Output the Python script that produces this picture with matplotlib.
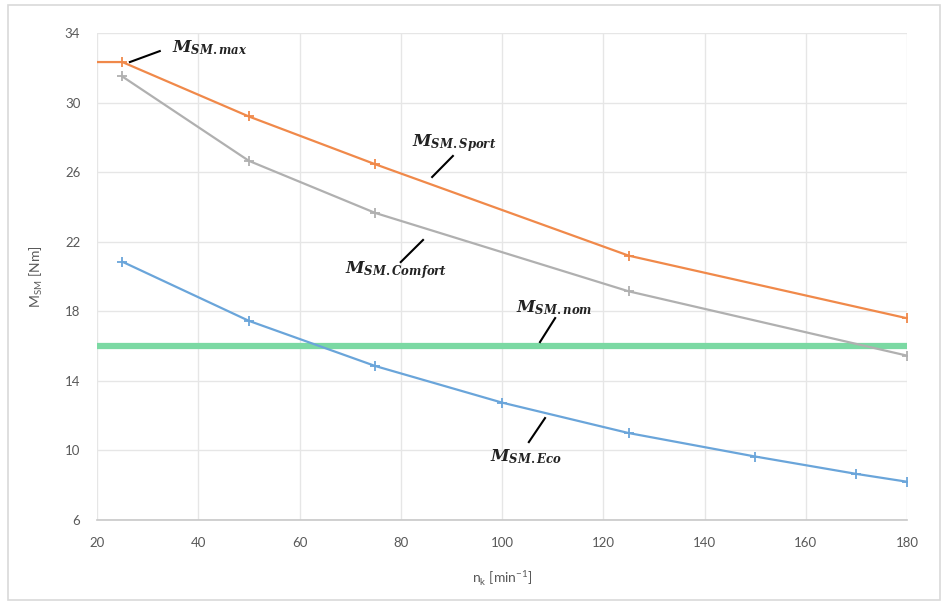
import matplotlib
matplotlib.use("Agg")
import matplotlib.pyplot as plt
from matplotlib.patches import Rectangle

plt.rcParams['mathtext.fontset'] = 'custom'
plt.rcParams['mathtext.it'] = 'DejaVu Serif:bold:italic'
plt.rcParams['mathtext.rm'] = 'DejaVu Serif:bold'
plt.rcParams['mathtext.bf'] = 'DejaVu Serif:bold'

# Data
sport_x = [20, 25, 50, 75, 125, 180]
sport_y = [32.33, 32.33, 29.2, 26.45, 21.2, 17.6]
comfort_x = [25, 50, 75, 125, 180]
comfort_y = [31.5, 26.65, 23.65, 19.15, 15.45]
eco_x = [25, 50, 75, 100, 125, 150, 170, 180]
eco_y = [20.85, 17.45, 14.85, 12.75, 11.0, 9.65, 8.65, 8.2]
nom_x = [20, 180]
nom_y = [16, 16]

x_ticks = [20, 40, 60, 80, 100, 120, 140, 160, 180]
y_ticks = [6, 10, 14, 18, 22, 26, 30, 34]

labels = [
    (r'$M_{SM.max}$', (34.8, 33.14), (26.5, 32.33), (32.4, 32.96)),
    (r'$M_{SM.Sport}$', (82.2, 27.67), (86.2, 25.72), (90.3, 26.93)),
    (r'$M_{SM.Comfort}$', (69.0, 20.37), (80.0, 20.83), (84.4, 22.1)),
    (r'$M_{SM.nom}$', (102.8, 18.19), (107.5, 16.23), (110.5, 17.61)),
    (r'$M_{SM.Eco}$', (97.6, 9.62), (105.3, 10.48), (108.5, 11.86)),
]

fig = plt.figure(figsize=(9.52, 6.07), dpi=100)
fig.patches.append(Rectangle((8/952, 1-600/607), 932/952, 595/607, transform=fig.transFigure,
                             fill=False, edgecolor='#d9d9d9', linewidth=1.2))
ax = fig.add_axes([97/952, 1-520/607, 810/952, 487/607])

ax.plot(nom_x, nom_y, color='#7bd9a3', lw=4.5, solid_capstyle='butt', zorder=2)
ax.plot(comfort_x, comfort_y, color='#b0b0b0', lw=1.6, marker='+', ms=7, mew=1.3, zorder=3)
ax.plot(sport_x, sport_y, color='#f0894a', lw=1.6, marker='+', ms=7, mew=1.3,
        markevery=list(range(1, len(sport_x))), zorder=3)
ax.plot(eco_x, eco_y, color='#6aa5da', lw=1.6, marker='+', ms=7, mew=1.3, zorder=3)

for txt, tpos, l0, l1 in labels:
    ax.text(tpos[0], tpos[1], txt, fontsize=12, va='center', ha='left', color='#222222')
    ax.plot([l0[0], l1[0]], [l0[1], l1[1]], color='black', lw=1.5, zorder=4)

ax.set_xlim(20, 180)
ax.set_ylim(6, 34)
ax.set_xticks(x_ticks)
ax.set_yticks(y_ticks)
ax.grid(True, color='#e6e6e6', lw=1)
ax.set_axisbelow(True)
for s in ['top', 'right', 'left']:
    ax.spines[s].set_visible(False)
ax.spines['bottom'].set_color('#c8c8c8')
ax.spines['bottom'].set_linewidth(1.2)
ax.tick_params(length=0, labelsize=9.5, labelcolor='#595959', pad=12)
for lab in ax.get_xticklabels() + ax.get_yticklabels():
    lab.set_family('Lato')

ax.set_xlabel(r'n$_{\mathregular{k}}$ [min$^{\mathregular{-1}}$]', fontsize=10, color='#595959',
              family='Lato', labelpad=14)
ax.set_ylabel(r'M$_{\mathregular{SM}}$ [Nm]', fontsize=10, color='#595959', family='Lato', labelpad=14)

fig.savefig('out.png', dpi=100)
